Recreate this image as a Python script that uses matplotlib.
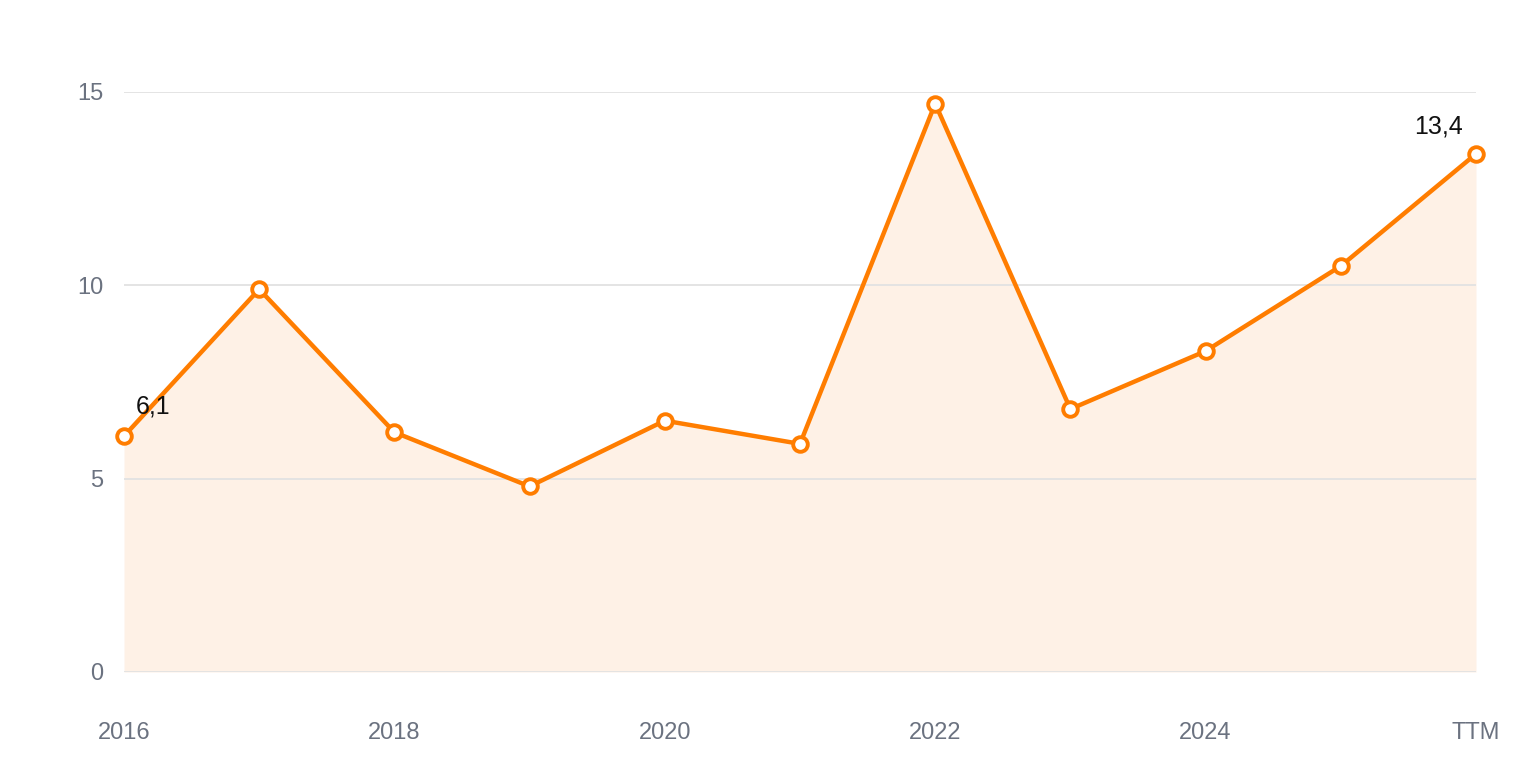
import matplotlib
matplotlib.use("Agg")
import matplotlib.pyplot as plt

labels = ["2016", "2017", "2018", "2019", "2020", "2021", "2022", "2023", "2024", "2025", "TTM"]
values = [6.1, 9.9, 6.2, 4.8, 6.5, 5.9, 14.7, 6.8, 8.3, 10.5, 13.4]
tick_idx = [0, 2, 4, 6, 8, 10]
y_ticks = [0, 5, 10, 15]

ORANGE = "#ff7d00"
FILL = "#fef1e6"
GRID = "#e2e2e2"
TXT = "#6b7280"

plt.rcParams["font.family"] = ["Liberation Sans", "DejaVu Sans"]

fig = plt.figure(figsize=(15.2, 7.6), dpi=100)
ax = fig.add_axes([124 / 1520, 1 - 672 / 760, (1476 - 124) / 1520, (672 - 92) / 760])

x = list(range(len(values)))
ax.fill_between(x, 0, values, color=FILL, zorder=1, linewidth=0)
ax.plot(x, values, color=ORANGE, lw=3.2, zorder=3, marker="o", ms=10.5,
        mfc="white", mec=ORANGE, mew=2.8, clip_on=False)

ax.set_xlim(0, len(values) - 1)
ax.set_ylim(0, 15)
ax.set_yticks(y_ticks)
ax.set_xticks(tick_idx)
ax.set_xticklabels([labels[i] for i in tick_idx])
ax.grid(axis="y", color=GRID, lw=1.3, zorder=2)
for s in ax.spines.values():
    s.set_visible(False)
ax.tick_params(axis="both", length=0, labelsize=17, labelcolor=TXT)
ax.tick_params(axis="x", pad=36)
ax.tick_params(axis="y", pad=15)

def fmt(v):
    return f"{v:.1f}".replace(".", ",")

ax.annotate(fmt(values[0]), (x[0], values[0]), xytext=(21, 21), textcoords="offset points",
            ha="center", va="center", fontsize=18, color="#111111", zorder=5)
ax.annotate(fmt(values[-1]), (x[-1], values[-1]), xytext=(-27, 20), textcoords="offset points",
            ha="center", va="center", fontsize=18, color="#111111", zorder=5)

fig.savefig("out.png", dpi=100)
